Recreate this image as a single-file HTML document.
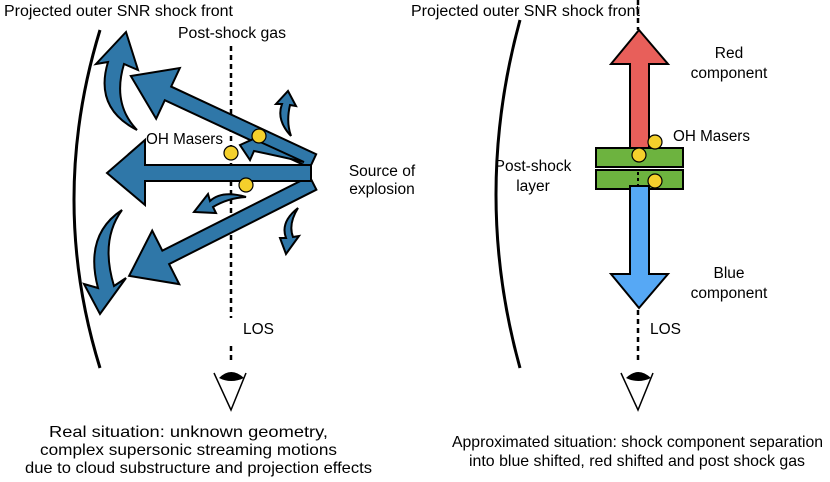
<!DOCTYPE html>
<html><head><meta charset="utf-8"><style>
html,body{margin:0;padding:0;background:#fff;}
svg{display:block;font-family:"Liberation Sans",sans-serif;font-size:15.5px;fill:#000;}
.b{font-size:16px;}
</style></head><body>
<svg width="830" height="482" viewBox="0 0 830 482" xmlns="http://www.w3.org/2000/svg">
<g fill="none" stroke="#000" stroke-width="3">
<path d="M100 30 Q48 200 100 368"/>
<path d="M520 20 Q472 195 520 368"/>
</g>
<g stroke="#000" stroke-width="2.5" stroke-dasharray="5,4">
<line x1="231" y1="46" x2="231" y2="318"/>
<line x1="231" y1="346" x2="231" y2="362"/>
<line x1="638" y1="0" x2="638" y2="30"/>
<line x1="638" y1="310" x2="638" y2="362"/>
</g>
<g fill="#2f77a8" stroke="#000" stroke-width="2" stroke-linejoin="miter">
<g transform="translate(313,161) rotate(205)"><polygon points="0,-7.5 160,-7.5 160,-28 201,0 160,28 160,7.5 0,7.5"/></g>
<g transform="translate(313,183) rotate(153.2)"><polygon points="0,-7.5 165,-7.5 165,-30 206,0 165,30 165,7.5 0,7.5"/></g>
<polygon points="311,165 145,165 145,140 107,173 145,205 145,181 311,181"/>
<path d="M137,130 Q94,108 108,62 L96,64 L126,32 L138,70 L124,64 Q112,104 137,130 Z"/>
<path d="M122,210 Q84,235 98,288 L84,284 L100,314 L126,278 L114,286 Q100,240 122,210 Z"/>
<path d="M291,136 Q276,120 282,104 L276,104 L288,91 L296,106 L290,105 Q286,122 291,136 Z"/>
<path d="M304,162 Q278,150 258,141 L260,136 L240,145 L250,160 L254,151 Q278,156 304,162 Z"/>
<path d="M246,197 Q222,190 210,201 L208,194 L194,212 L216,213 L213,207 Q228,198 246,197 Z"/>
<path d="M298,208 Q280,222 286,238 L280,238 L286,254 L299,236 L293,237 Q288,224 298,208 Z"/>
</g>
<g fill="#f4d02c" stroke="#000" stroke-width="1.2">
<circle cx="259" cy="136" r="7"/><circle cx="231" cy="153" r="7"/><circle cx="246" cy="185" r="7"/>
</g>
<g stroke="#000" stroke-width="2">
<polygon fill="#e85f5a" points="630,150 630,64 611,64 639,30 668,64 649,64 649,150"/>
<rect x="596" y="148" width="87" height="19" fill="#6db33f"/>
<rect x="596" y="170" width="87" height="19" fill="#6db33f"/>
<polygon fill="#56a8f5" points="630,186 649,186 649,274 668,274 639,308 611,274 630,274"/>
</g>
<line x1="638" y1="172" x2="638" y2="186" stroke="#000" stroke-width="2" stroke-dasharray="3,3"/>
<g fill="#f4d02c" stroke="#000" stroke-width="1.2">
<circle cx="655" cy="142" r="7"/><circle cx="639" cy="155" r="7"/><circle cx="655" cy="181" r="7"/>
</g>
<g fill="none" stroke="#000" stroke-width="1.5">
<path d="M214 373 L231 410 L246 373"/>
<path d="M621 373 L638 410 L653 373"/>
</g>
<path d="M219 378 Q231 366 244 378 Q231 384 219 378 Z" fill="#000"/>
<path d="M626 378 Q638 366 651 378 Q638 384 626 378 Z" fill="#000"/>
<text x="4" y="16" textLength="229" lengthAdjust="spacingAndGlyphs">Projected outer SNR shock front</text>
<text x="178" y="38" textLength="108" lengthAdjust="spacingAndGlyphs">Post-shock gas</text>
<text x="146" y="144" textLength="77" lengthAdjust="spacingAndGlyphs">OH Masers</text>
<text x="382" y="176" text-anchor="middle">Source of</text>
<text x="382" y="194" text-anchor="middle">explosion</text>
<text x="243" y="334">LOS</text>
<text x="411" y="16" textLength="229" lengthAdjust="spacingAndGlyphs">Projected outer SNR shock front</text>
<text x="729" y="58" text-anchor="middle">Red</text>
<text x="729" y="78" text-anchor="middle">component</text>
<text x="673" y="141" textLength="77" lengthAdjust="spacingAndGlyphs">OH Masers</text>
<text x="533" y="171" text-anchor="middle">Post-shock</text>
<text x="533" y="191" text-anchor="middle">layer</text>
<text x="729" y="278" text-anchor="middle">Blue</text>
<text x="729" y="298" text-anchor="middle">component</text>
<text x="650" y="334">LOS</text>
<text class="b" x="49" y="437" textLength="279" lengthAdjust="spacingAndGlyphs">Real situation: unknown geometry,</text>
<text class="b" x="40" y="455" textLength="297" lengthAdjust="spacingAndGlyphs">complex supersonic streaming motions</text>
<text class="b" x="25" y="473" textLength="347" lengthAdjust="spacingAndGlyphs">due to cloud substructure and projection effects</text>
<text class="b" x="452" y="447" textLength="371" lengthAdjust="spacingAndGlyphs">Approximated situation: shock component separation</text>
<text class="b" x="469" y="466" textLength="336" lengthAdjust="spacingAndGlyphs">into blue shifted, red shifted and post shock gas</text>
</svg>
</body></html>
